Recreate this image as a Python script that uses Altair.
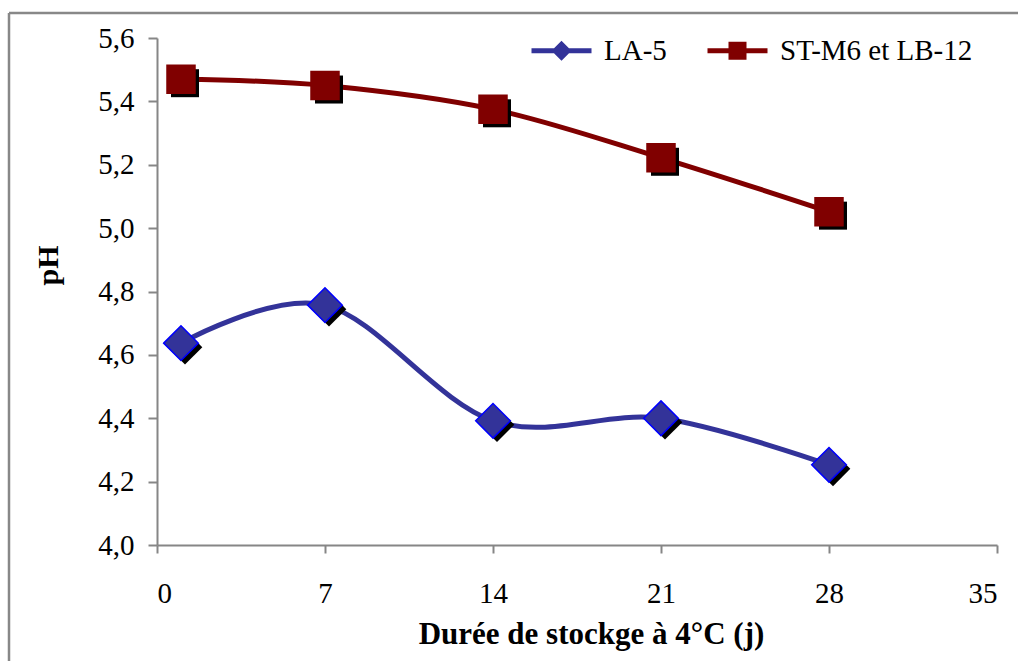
import altair as alt
import pandas as pd

days = [1, 7, 14, 21, 28]
series_names = ["LA-5", "ST-M6 et LB-12"]
ph_la5 = [4.637, 4.757, 4.392, 4.400, 4.253]
ph_st = [5.470, 5.450, 5.375, 5.222, 5.052]

x_ticks = [0, 7, 14, 21, 28, 35]
y_ticks = [4.0, 4.2, 4.4, 4.6, 4.8, 5.0, 5.2, 5.4, 5.6]

colors = ["#333399", "#800000"]
marker_shapes = ["diamond", "square"]
marker_sizes = [1200, 784]
marker_strokes = ["#0000ff", "#800000"]

legend_paths = [
    "M-3,-0.25H3V0.25H-3Z M0,-1L1,0L0,1L-1,0Z",
    "M-3,-0.25H3V0.25H-3Z M-0.9,-0.9H0.9V0.9H-0.9Z",
]

rows = []
for name, vals in zip(series_names, [ph_la5, ph_st]):
    for d, v in zip(days, vals):
        rows.append({"jour": d, "pH": v, "serie": name})
df = pd.DataFrame(rows)

FONT = "Liberation Serif"

x_enc = alt.X(
    "jour:Q",
    scale=alt.Scale(domain=[0, 35], nice=False, zero=False),
    axis=alt.Axis(
        values=x_ticks,
        title="Durée de stockge à 4°C (j)",
        titleFont=FONT,
        titleFontSize=31,
        titleFontWeight="bold",
        titleColor="black",
        titleBaseline="alphabetic",
        titleAlign="center",
        titleX=434,
        titleY=98,
        labelFont=FONT,
        labelFontSize=29,
        labelColor="black",
        labelPadding=26,
        tickSize=8,
        grid=False,
    ),
)
y_enc = alt.Y(
    "pH:Q",
    scale=alt.Scale(domain=[4.0, 5.6], nice=False, zero=False),
    axis=alt.Axis(
        values=y_ticks,
        title="pH",
        labelExpr="replace(format(datum.value, '.1f'), '.', ',')",
        titleFont=FONT,
        titleFontSize=30,
        titleFontWeight="bold",
        titleColor="black",
        titleAngle=270,
        titleBaseline="alphabetic",
        titleAlign="center",
        titleX=-100,
        titleY=227,
        labelFont=FONT,
        labelFontSize=29,
        labelColor="black",
        labelPadding=14,
        tickSize=9,
        grid=False,
    ),
)

base = alt.Chart(df)
layers = []
for i, name in enumerate(series_names):
    sub = base.transform_filter(alt.datum.serie == name)
    layers.append(
        sub.mark_line(
            interpolate="cardinal", color=colors[i], strokeWidth=5
        ).encode(x=x_enc, y=y_enc)
    )
for i, name in enumerate(series_names):
    sub = base.transform_filter(alt.datum.serie == name)
    layers.append(
        sub.mark_point(
            shape=marker_shapes[i], size=marker_sizes[i], filled=True,
            color="black", opacity=1, xOffset=4, yOffset=4
        ).encode(x=x_enc, y=y_enc)
    )
    layers.append(
        sub.mark_point(
            shape=marker_shapes[i], size=marker_sizes[i], filled=True,
            fill=colors[i], stroke=marker_strokes[i], strokeWidth=1.5, opacity=1
        ).encode(x=x_enc, y=y_enc)
    )

legend_def = alt.Legend(
    title=None,
    orient="none",
    direction="horizontal",
    legendX=390,
    legendY=-2,
    labelFont=FONT,
    labelFontSize=29,
    labelColor="black",
    labelLimit=400,
    symbolSize=400,
    symbolStrokeWidth=0,
    labelOffset=28,
    columnPadding=40,
    padding=0,
)

legend_layer = base.transform_filter("false").mark_point(filled=True, opacity=1).encode(
    x=x_enc,
    y=y_enc,
    color=alt.Color(
        "serie:N",
        scale=alt.Scale(domain=series_names, range=colors),
        legend=legend_def,
    ),
    shape=alt.Shape(
        "serie:N",
        scale=alt.Scale(domain=series_names, range=legend_paths),
        legend=legend_def,
    ),
)
layers.append(legend_layer)

border_top = alt.Chart(pd.DataFrame({"k": [0]})).mark_rule(
    color="#888888", strokeWidth=2.5
).encode(x=alt.value(-148), x2=alt.value(900), y=alt.value(-25))
border_left = alt.Chart(pd.DataFrame({"k": [0]})).mark_rule(
    color="#888888", strokeWidth=2.5
).encode(x=alt.value(-148), y=alt.value(-25), y2=alt.value(700))

chart = alt.layer(border_top, border_left, *layers).properties(
    width=840,
    height=507,
    autosize=alt.AutoSizeParams(type="none"),
    padding={"left": 157, "top": 38, "right": 21, "bottom": 116},
    background="white",
).configure_view(stroke=None).configure_axis(
    domainColor="#868686", domainWidth=2, tickColor="#868686", tickWidth=2
).configure_legend(
    labelFont=FONT, labelFontSize=29, labelColor="black", labelLimit=400
)

chart.save("out.html", embed_options={"renderer": "svg", "actions": False})
